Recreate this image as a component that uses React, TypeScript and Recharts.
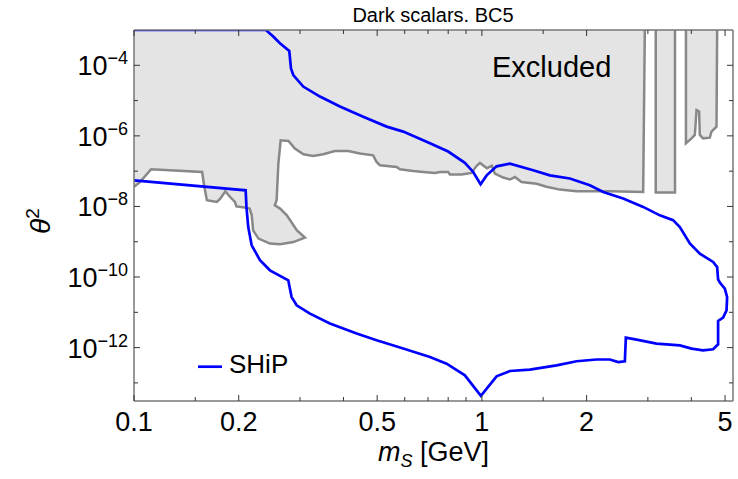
import React from 'react';
import { ComposedChart, Area, Line, XAxis, YAxis } from 'recharts';

// excluded region, lower boundary traced left to right (the region extends up to the top edge)
const excludedMass = [
  0.1, 0.104, 0.112, 0.157, 0.159, 0.162, 0.173, 0.177, 0.183, 0.189, 0.195, 0.197, 0.208, 0.215,
  0.218, 0.22, 0.228, 0.246, 0.263, 0.287, 0.31, 0.294, 0.275, 0.263, 0.254, 0.257, 0.26, 0.264,
  0.278, 0.29, 0.307, 0.327, 0.35, 0.378, 0.413, 0.446, 0.487, 0.498, 0.509, 0.569, 0.581, 0.635,
  0.678, 0.733, 0.757, 0.8, 0.809, 0.874, 0.934, 0.966, 0.987, 1.034, 1.068, 1.09, 1.151, 1.204,
  1.244, 1.3, 1.436, 1.534, 1.675, 1.871, 2.333, 2.908, 2.94,
];
const excludedTheta2 = [
  3.6e-8, 4.9e-8, 1.13e-7, 9.5e-8, 4.0e-8, 1.5e-8, 1.34e-8, 1.67e-8, 2.7e-8, 1.85e-8, 1.34e-8, 1.0e-8,
  9.3e-9, 8.7e-9, 5.6e-9, 2.1e-9, 1.23e-9, 8.9e-10, 8.5e-10, 9.8e-10, 1.31e-9, 2.1e-9, 5.6e-9, 8.7e-9,
  1.08e-8, 1.5e-8, 1.64e-7, 7.5e-7, 7.2e-7, 4.4e-7, 3.0e-7, 2.7e-7, 3.0e-7, 3.7e-7, 3.7e-7, 3.15e-7,
  2.8e-7, 1.82e-7, 1.47e-7, 1.31e-7, 1.13e-7, 1.01e-7, 9.5e-8, 8.9e-8, 9.5e-8, 9.5e-8, 8.0e-8, 8.0e-8,
  8.9e-8, 1.42e-7, 1.71e-7, 1.21e-7, 1.42e-7, 8.5e-8, 6.6e-8, 5.8e-8, 6.8e-8, 4.9e-8, 4.4e-8, 3.6e-8,
  3.0e-8, 2.7e-8, 2.7e-8, 2.57e-8, 1e-3,
];

const stripAMass = [3.16, 3.16, 3.59, 3.59];
const stripATheta2 = [1e-3, 2.5e-8, 2.5e-8, 1e-3];

const stripBMass = [3.86, 3.86, 4.005, 4.094, 4.14, 4.211, 4.231, 4.324, 4.52, 4.571, 4.725, 4.745];
const stripBTheta2 = [1e-3, 6.2e-7, 8.5e-7, 1.06e-6, 5.4e-6, 4.9e-6, 1.06e-6, 8.5e-7, 8.9e-7, 1.32e-6, 1.83e-6, 1e-3];

// SHiP sensitivity contour, lower branch then upper branch
const shipMass = [
  0.1, 0.2094, 0.2105, 0.213, 0.2179, 0.2302, 0.2459, 0.2776, 0.2838, 0.2935, 0.3205, 0.3657, 0.4365,
  0.4981, 0.5941, 0.7091, 0.7917, 0.8935, 0.9934, 1.102, 1.204, 1.374, 1.639, 1.871, 2.136, 2.333,
  2.465, 2.576, 2.593, 2.784, 3.177, 3.707, 4.005, 4.324, 4.62, 4.775, 4.775, 4.936, 5.049, 5.069,
  4.992, 4.83, 4.775, 4.745, 4.62, 4.231, 3.96, 3.707, 3.545, 3.247, 2.908, 2.547, 2.232, 2.043, 1.79,
  1.568, 1.404, 1.204, 1.102, 1.032, 0.9914, 0.944, 0.8935, 0.8, 0.7091, 0.5941, 0.5323, 0.4558,
  0.3908, 0.3424, 0.3065, 0.287, 0.2826, 0.2795, 0.2627, 0.2513, 0.2394, 0.1,
];
const shipTheta2 = [
  5.5e-8, 2.87e-8, 9.7e-9, 2.6e-9, 7.9e-10, 3.0e-10, 1.55e-10, 8.1e-11, 2.7e-11, 1.58e-11, 9.2e-12,
  4.8e-12, 2.5e-12, 1.61e-12, 9.4e-13, 5.4e-13, 3.5e-13, 1.64e-13, 4.3e-14, 1.54e-13, 2.17e-13,
  2.38e-13, 3.15e-13, 4.1e-13, 4.6e-13, 4.6e-13, 3.9e-13, 4.1e-13, 1.92e-12, 1.69e-12, 1.3e-12,
  1.16e-12, 9.4e-13, 8.4e-13, 9.0e-13, 1.24e-12, 5.7e-12, 7.1e-12, 1.14e-11, 2.7e-11, 4.7e-11, 7.0e-11,
  8.6e-11, 1.92e-10, 2.67e-10, 4.6e-10, 8.9e-10, 2.6e-9, 4.1e-9, 5.6e-9, 9.7e-9, 1.67e-8, 2.57e-8,
  4.0e-8, 6.2e-8, 7.6e-8, 1.06e-7, 1.64e-7, 1.37e-7, 7.6e-8, 4.25e-8, 9.5e-8, 1.73e-7, 3.6e-7, 6.2e-7,
  1.32e-6, 1.83e-6, 3.5e-6, 6.8e-6, 1.3e-5, 2.5e-5, 5.3e-5, 8.2e-5, 2.54e-4, 4.2e-4, 6.5e-4, 1e-3, 1e-3,
];

const massTicks = [0.1, 0.15, 0.2, 0.3, 0.4, 0.5, 0.6, 0.7, 0.8, 0.9, 1, 1.5, 2, 3, 4, 5];
const massLabels = [0.1, 0.2, 0.5, 1, 2, 5];
const thetaTicks = [1e-13, 1e-12, 1e-11, 1e-10, 1e-9, 1e-8, 1e-7, 1e-6, 1e-5, 1e-4];

const toRows = (m: number[], t: number[]) => m.map((v, i) => ({ m: v, t2: t[i] }));

const excludedRows = toRows(excludedMass, excludedTheta2);
const stripARows = toRows(stripAMass, stripATheta2);
const stripBRows = toRows(stripBMass, stripBTheta2);
const shipRows = toRows(shipMass, shipTheta2);

const FONT = '"Liberation Sans", Arial, sans-serif';
const TICK = '#333';
const FRAME = '#777';
const GREY_FILL = '#e4e4e4';
const GREY_LINE = '#888888';

const BottomTick = (props: any) => {
  const { x, y, payload } = props;
  const major = massLabels.includes(payload.value);
  return (
    <g>
      <line x1={x} x2={x} y1={y} y2={y - (major ? 6 : 4)} stroke={TICK} />
      {major && (
        <text x={x} y={y + 30} textAnchor="middle" fontSize={27} fill="#000" fontFamily={FONT}>
          {String(payload.value)}
        </text>
      )}
    </g>
  );
};

const TopTick = (props: any) => {
  const { x, y, payload } = props;
  const major = massLabels.includes(payload.value);
  return <line x1={x} x2={x} y1={y} y2={y + (major ? 6 : 4)} stroke={TICK} />;
};

const LeftTick = (props: any) => {
  const { x, y, payload } = props;
  const exp = Math.round(Math.log10(payload.value));
  const major = exp % 2 === 0;
  return (
    <g>
      <line x1={x} x2={x + (major ? 6 : 4)} y1={y} y2={y} stroke={TICK} />
      {major && (
        <text x={x - 6} y={y + 10} textAnchor="end" fontSize={27} fill="#000" fontFamily={FONT}>
          10
          <tspan dy={-11} fontSize={18}>{'\u2212' + Math.abs(exp)}</tspan>
        </text>
      )}
    </g>
  );
};

const RightTick = (props: any) => {
  const { x, y, payload } = props;
  const exp = Math.round(Math.log10(payload.value));
  const major = exp % 2 === 0;
  return <line x1={x} x2={x - (major ? 6 : 4)} y1={y} y2={y} stroke={TICK} />;
};

export default function App() {
  return (
    <div style={{ position: 'absolute', left: 0, top: 0, width: 738, height: 479, background: '#fff', fontFamily: FONT }}>
      <ComposedChart width={738} height={479} margin={{ top: 29, right: 4, bottom: 77, left: 133 }}>
        <XAxis
          dataKey="m"
          type="number"
          scale="log"
          domain={[0.1, 5.27]}
          allowDataOverflow
          ticks={massTicks}
          interval={0}
          height={1}
          tickSize={0}
          tickMargin={0}
          tick={<BottomTick />}
          stroke={FRAME}
          strokeWidth={1.5}
        />
        <XAxis
          xAxisId="top"
          orientation="top"
          dataKey="m"
          type="number"
          scale="log"
          domain={[0.1, 5.27]}
          allowDataOverflow
          ticks={massTicks}
          interval={0}
          height={1}
          tickSize={0}
          tickMargin={0}
          tick={<TopTick />}
          stroke={FRAME}
          strokeWidth={1.5}
        />
        <YAxis
          dataKey="t2"
          type="number"
          scale="log"
          domain={[3.07e-14, 1e-3]}
          allowDataOverflow
          ticks={thetaTicks}
          interval={0}
          width={1}
          tickSize={0}
          tickMargin={0}
          tick={<LeftTick />}
          stroke={FRAME}
          strokeWidth={1.5}
        />
        <YAxis
          yAxisId="right"
          orientation="right"
          dataKey="t2"
          type="number"
          scale="log"
          domain={[3.07e-14, 1e-3]}
          allowDataOverflow
          ticks={thetaTicks}
          interval={0}
          width={1}
          tickSize={0}
          tickMargin={0}
          tick={<RightTick />}
          stroke={FRAME}
          strokeWidth={1.5}
        />
        <Area
          data={excludedRows}
          dataKey="t2"
          type="linear"
          baseValue="dataMax"
          fill={GREY_FILL}
          fillOpacity={1}
          stroke={GREY_LINE}
          strokeWidth={2.5}
          dot={false}
          activeDot={false}
          isAnimationActive={false}
        />
        <Area
          data={stripARows}
          dataKey="t2"
          type="linear"
          baseValue="dataMax"
          fill={GREY_FILL}
          fillOpacity={1}
          stroke={GREY_LINE}
          strokeWidth={2.5}
          dot={false}
          activeDot={false}
          isAnimationActive={false}
        />
        <Area
          data={stripBRows}
          dataKey="t2"
          type="linear"
          baseValue="dataMax"
          fill={GREY_FILL}
          fillOpacity={1}
          stroke={GREY_LINE}
          strokeWidth={2.5}
          dot={false}
          activeDot={false}
          isAnimationActive={false}
        />
        <Line
          data={shipRows}
          dataKey="t2"
          type="linear"
          stroke="#0000ff"
          strokeWidth={2.7}
          dot={false}
          activeDot={false}
          isAnimationActive={false}
        />
      </ComposedChart>
      <svg width={738} height={479} style={{ position: 'absolute', left: 0, top: 0, pointerEvents: 'none' }}>
        <text x={433} y={22} textAnchor="middle" fontSize={20} fontFamily={FONT} fill="#000">
          Dark scalars. BC5
        </text>
        <text x={492} y={77} fontSize={29} fontFamily={FONT} fill="#000">
          Excluded
        </text>
        <line x1={198} x2={222} y1={366.7} y2={366.7} stroke="#0000ff" strokeWidth={2.7} />
        <text x={229} y={373} fontSize={26} fontFamily={FONT} fill="#000">
          SHiP
        </text>
        <text x={433.5} y={461} textAnchor="middle" fontSize={27} fontFamily={FONT} fill="#000">
          <tspan fontStyle="italic">m</tspan>
          <tspan fontSize={18} fontStyle="italic" dy={6}>S</tspan>
          <tspan dy={-6}> [GeV]</tspan>
        </text>
        <text x={50} y={221} textAnchor="middle" fontSize={28} fontFamily={FONT} fill="#000" transform="rotate(-90 50 221)">
          <tspan fontStyle="italic">θ</tspan>
          <tspan fontSize={19} dy={-11}>2</tspan>
        </text>
      </svg>
    </div>
  );
}
